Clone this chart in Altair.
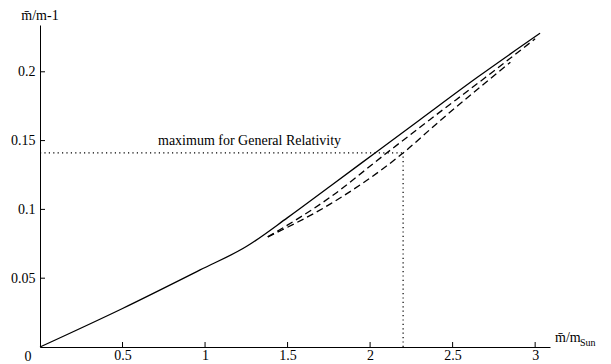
import altair as alt
import pandas as pd

# solid curve
solid_x = [0, 0.5, 0.97, 1.25, 1.5, 1.76, 2.03, 2.30, 2.65, 3.03]
solid_y = [0, 0.028, 0.056, 0.073, 0.094, 0.117, 0.141, 0.165, 0.196, 0.228]
# upper dashed curve
upper_x = [1.38, 1.76, 2.09, 2.36, 2.7, 3.0]
upper_y = [0.08, 0.109, 0.14, 0.165, 0.196, 0.224]
# lower dashed curve
lower_x = [1.38, 1.76, 2.19, 2.41, 2.85]
lower_y = [0.08, 0.104, 0.14, 0.163, 0.207]
# GR maximum
max_x = 2.2
max_y = 0.141
max_label = "maximum for General Relativity"

x_ticks = [0.5, 1, 1.5, 2, 2.5, 3]
y_ticks = [0.05, 0.1, 0.15, 0.2]

FONT = "Liberation Serif"
W, H = 510, 322

xs = alt.Scale(domain=[0, 3.09], nice=False, zero=False)
ys = alt.Scale(domain=[0, 0.234], nice=False, zero=False)

xaxis = alt.Axis(values=x_ticks, ticks=False, grid=False, labelPadding=1,
                 labelFont=FONT, labelFontSize=14, labelColor="black",
                 domainColor="black", title=None, labelFlush=False, format="~g")
yaxis = alt.Axis(values=y_ticks, ticks=False, grid=False, labelPadding=5,
                 labelFont=FONT, labelFontSize=14, labelColor="black",
                 domainColor="black", title=None, format="~g")

curves = pd.concat([
    pd.DataFrame({"x": solid_x, "y": solid_y, "s": "solid"}),
    pd.DataFrame({"x": upper_x, "y": upper_y, "s": "upper"}),
    pd.DataFrame({"x": lower_x, "y": lower_y, "s": "lower"}),
])

solid = alt.Chart(curves[curves.s == "solid"]).mark_line(
    color="black", strokeWidth=1.3, interpolate="monotone"
).encode(x=alt.X("x:Q", scale=xs, axis=xaxis), y=alt.Y("y:Q", scale=ys, axis=yaxis))

dashed = alt.Chart(curves[curves.s != "solid"]).mark_line(
    color="black", strokeWidth=1.3, strokeDash=[7, 4], interpolate="monotone"
).encode(x=alt.X("x:Q", scale=xs), y=alt.Y("y:Q", scale=ys), detail="s:N")

mx = pd.DataFrame({"x0": [0], "x": [max_x], "y0": [0], "y": [max_y], "label": [max_label]})
hdot = alt.Chart(mx).mark_rule(color="black", strokeWidth=1.2, strokeDash=[1.2, 3.2]).encode(
    x=alt.X("x0:Q", scale=xs), x2="x:Q", y=alt.Y("y:Q", scale=ys))
vdot = alt.Chart(mx).mark_rule(color="black", strokeWidth=1.2, strokeDash=[1.2, 3.2]).encode(
    x=alt.X("x:Q", scale=xs), y=alt.Y("y0:Q", scale=ys), y2="y:Q")
label = alt.Chart(mx).mark_text(font=FONT, fontSize=14, align="left", baseline="alphabetic",
                                dx=118, dy=-8, color="black").encode(
    x=alt.X("x0:Q", scale=xs), y=alt.Y("y:Q", scale=ys), text="label:N")

xt = pd.DataFrame({"v": x_ticks})
yt = pd.DataFrame({"v": y_ticks})
xtick = alt.Chart(xt).mark_rule(color="black", strokeWidth=1).encode(
    x=alt.X("v:Q", scale=xs), y=alt.value(H), y2=alt.value(H - 5))
ytick = alt.Chart(yt).mark_rule(color="black", strokeWidth=1).encode(
    y=alt.Y("v:Q", scale=ys), x=alt.value(0), x2=alt.value(5))

zero = alt.Chart(pd.DataFrame({"x": [0], "y": [0], "t": ["0"]})).mark_text(
    font=FONT, fontSize=14, align="center", baseline="top", dx=-12, dy=3, color="black"
).encode(x=alt.X("x:Q", scale=xs), y=alt.Y("y:Q", scale=ys), text="t:N")

ytitle = alt.Chart(pd.DataFrame({"t": ["m\u0304/m-1"]})).mark_text(
    font=FONT, fontSize=14, align="center", baseline="alphabetic", color="black"
).encode(x=alt.value(0), y=alt.value(-5), text="t:N")
xtitle = alt.Chart(pd.DataFrame({"t": ["m\u0304/m"]})).mark_text(
    font=FONT, fontSize=14, align="left", baseline="alphabetic", color="black"
).encode(x=alt.value(515), y=alt.value(H - 5), text="t:N")
xsub = alt.Chart(pd.DataFrame({"t": ["Sun"]})).mark_text(
    font=FONT, fontSize=10, align="left", baseline="alphabetic", color="black"
).encode(x=alt.value(540), y=alt.value(H - 1), text="t:N")

chart = alt.layer(solid, dashed, hdot, vdot, label, xtick, ytick, zero, ytitle, xtitle, xsub).properties(
    width=W, height=H,
    autosize=alt.AutoSizeParams(type="none"),
    padding={"left": 32, "top": 17, "right": 53, "bottom": 18},
).configure_view(stroke=None).configure_axis(domainWidth=1)

chart.save("out.html", embed_options={"renderer": "svg", "actions": False})
